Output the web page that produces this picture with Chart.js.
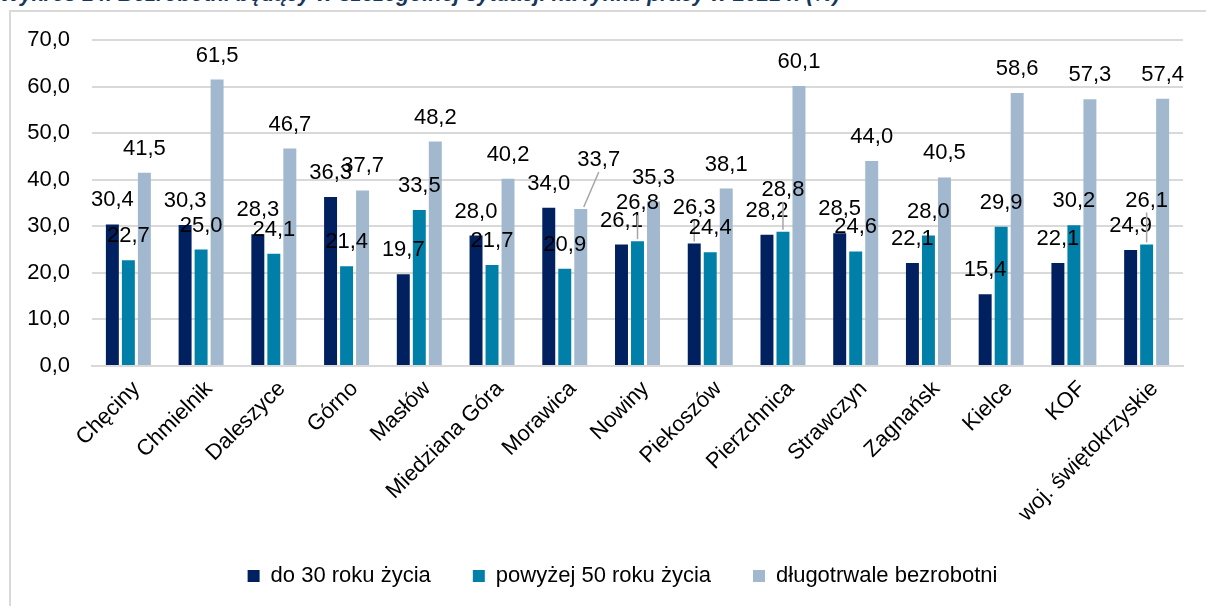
<!DOCTYPE html>
<html>
<head>
<meta charset="utf-8">
<script src="https://cdn.jsdelivr.net/npm/chart.js@4.4.1/dist/chart.umd.min.js"></script>
<style>
  html, body { margin: 0; padding: 0; background: #fff; overflow: hidden; }
  #title { position: absolute; left: 0; top: -18px; white-space: nowrap;
           font: bold italic 21.5px "Liberation Sans", Arial, sans-serif; color: #17375e; }
  #box { position: absolute; left: 9px; top: 10px; width: 1230px; height: 640px;
         border: 2px solid #d9d9d9; box-sizing: border-box; }
  #wrap { position: absolute; left: 0; top: 0; width: 1206px; height: 606px; }
</style>
</head>
<body>
<div id="title">Wykres 14. Bezrobotni będący w szczególnej sytuacji na rynku pracy w 2021 r. (%)</div>
<div id="box"></div>
<div id="wrap"><canvas id="chart"></canvas></div>
<script>
// --- data ---
const gminy = ["Chęciny", "Chmielnik", "Daleszyce", "Górno", "Masłów", "Miedziana Góra", "Morawica",
  "Nowiny", "Piekoszów", "Pierzchnica", "Strawczyn", "Zagnańsk", "Kielce", "KOF", "woj. świętokrzyskie"];
const do30 = [30.4, 30.3, 28.3, 36.3, 19.7, 28.0, 34.0, 26.1, 26.3, 28.2, 28.5, 22.1, 15.4, 22.1, 24.9];
const pow50 = [22.7, 25.0, 24.1, 21.4, 33.5, 21.7, 20.9, 26.8, 24.4, 28.8, 24.6, 28.0, 29.9, 30.2, 26.1];
const dlugo = [41.5, 61.5, 46.7, 37.7, 48.2, 40.2, 33.7, 35.3, 38.1, 60.1, 44.0, 40.5, 58.6, 57.3, 57.4];
const yTicks = [0, 10, 20, 30, 40, 50, 60, 70];

const FONT = "'Liberation Sans', Arial, sans-serif";
const fmt = v => v.toFixed(1).replace('.', ',');

// labels that were dragged away from the bar in the original (dataset-index: [dx, dy])
const labelShift = { '2-6': [18, -25], '1-7': [0, -14], '0-8': [0, -12], '1-9': [0, -18], '1-14': [0, -20] };

const valueLabels = {
  id: 'valueLabels',
  afterLayout(chart) {
    // legend in the original sits a bit right of centre
    chart.legend.left += 26;
    chart.legend.right += 26;
  },
  afterDatasetsDraw(chart) {
    const ctx = chart.ctx;
    ctx.save();
    ctx.font = '22px ' + FONT;
    ctx.textAlign = 'center';
    ctx.textBaseline = 'middle';
    chart.data.datasets.forEach((ds, di) => {
      chart.getDatasetMeta(di).data.forEach((bar, i) => {
        const sh = labelShift[di + '-' + i] || [0, 0];
        const lx = bar.x + sh[0];
        const ly = bar.y - 24 + sh[1];
        if (sh[0] || sh[1]) {
          ctx.strokeStyle = '#a6a6a6';
          ctx.lineWidth = 1.5;
          ctx.beginPath();
          ctx.moveTo(bar.x + (sh[0] ? 3 : 0), bar.y - 2);
          ctx.lineTo(lx, ly + 12);
          ctx.stroke();
        }
        ctx.fillStyle = '#000';
        ctx.fillText(fmt(ds.data[i]), lx, ly);
      });
    });
    ctx.restore();
  }
};

new Chart(document.getElementById('chart'), {
  type: 'bar',
  data: {
    labels: gminy,
    datasets: [
      { label: 'do 30 roku życia', data: do30, backgroundColor: '#002060' },
      { label: 'powyżej 50 roku życia', data: pow50, backgroundColor: '#0080a8' },
      { label: 'długotrwale bezrobotni', data: dlugo, backgroundColor: '#a1b8cf' }
    ]
  },
  options: {
    responsive: true,
    maintainAspectRatio: false,
    animation: false,
    categoryPercentage: 0.66,
    barPercentage: 0.81,
    layout: { padding: { left: 10, right: 23, top: 40, bottom: 9 } },
    plugins: {
      legend: {
        position: 'bottom',
        labels: { font: { family: FONT, size: 22 }, color: '#000', boxWidth: 12, boxHeight: 12, padding: 42 }
      },
      tooltip: { enabled: false }
    },
    scales: {
      x: {
        grid: { display: false },
        border: { color: '#d9d9d9', width: 2 },
        ticks: { font: { family: FONT, size: 22 }, color: '#000', minRotation: 45, maxRotation: 45, autoSkip: false, padding: 2, labelOffset: 8 },
        afterFit: s => { s.height = 157; }
      },
      y: {
        min: 0,
        max: 70,
        afterBuildTicks: s => { s.ticks = yTicks.map(v => ({ value: v })); },
        grid: { color: '#d9d9d9', lineWidth: 2, drawTicks: false },
        border: { display: false },
        ticks: { font: { family: FONT, size: 22 }, color: '#000', padding: 22, callback: v => fmt(v) },
        afterFit: s => { s.width = 82; }
      }
    }
  },
  plugins: [valueLabels]
});
</script>
</body>
</html>
